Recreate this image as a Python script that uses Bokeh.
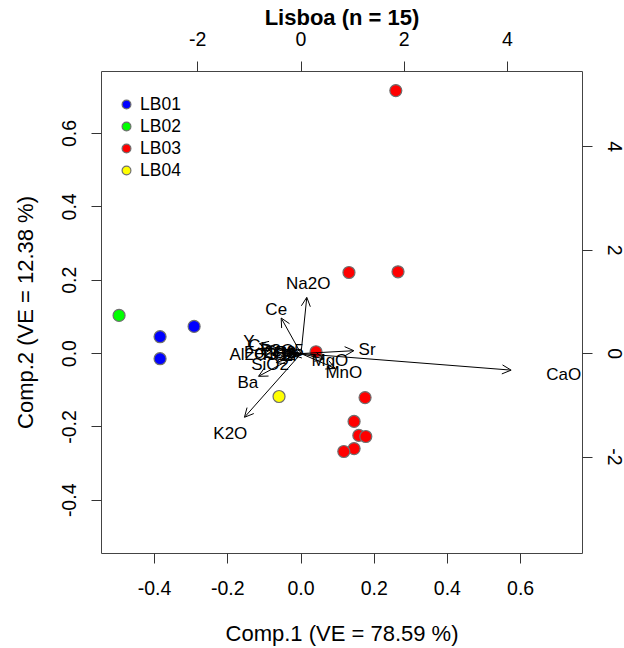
from bokeh.plotting import figure
from bokeh.models import (Range1d, LinearAxis, FixedTicker, Arrow, OpenHead,
                          ColumnDataSource, Legend, LegendItem)
from bokeh.core.properties import value
from bokeh.embed import file_html
from bokeh.resources import INLINE

# ---------------- data ----------------
title = "Lisboa (n = 15)"
xlab = "Comp.1 (VE = 78.59 %)"
ylab = "Comp.2 (VE = 12.38 %)"

groups = ["LB01", "LB02", "LB03", "LB04"]
group_colors = ["#0000FF", "#00FF00", "#FF0000", "#FFFF00"]

lb01_x = [-0.385, -0.385, -0.292]
lb01_y = [0.046, -0.014, 0.074]
lb02_x = [-0.497]
lb02_y = [0.104]
lb03_x = [0.259, 0.131, 0.265, 0.041, 0.175, 0.145, 0.158, 0.177, 0.145, 0.117]
lb03_y = [0.717, 0.221, 0.223, 0.005, -0.120, -0.185, -0.223, -0.226, -0.259, -0.267]
lb04_x = [-0.060]
lb04_y = [-0.117]

# variable loadings (label positions, loadings scale); arrows drawn to 0.8 x
var_names = ["CaO", "Na2O", "Ce", "Sr", "K2O", "Ba", "SiO2", "MgO", "MnO", "Y",
             "Al2O3", "Fe2O3", "TiO2", "P2O5", "Zr", "Rb", "Cr"]
var_x = [5.09, 0.14, -0.48, 1.28, -1.37, -1.03, -0.60, 0.56, 0.83, -1.01,
         -0.93, -0.60, -0.45, -0.37, -0.21, -0.29, -0.85]
var_y = [-0.40, 1.36, 0.86, 0.07, -1.54, -0.55, -0.22, -0.13, -0.36, 0.24,
         -0.01, 0.03, -0.01, 0.05, -0.03, 0.03, 0.15]

score_ticks = [-0.4, -0.2, 0.0, 0.2, 0.4, 0.6]
load_ticks = [-2, 0, 2, 4]
score_lim = (-0.545, 0.769)
load_ratio = 7.093

FONT = "Liberation Sans"

# ---------------- figure ----------------
p = figure(width=624, height=648, output_backend="svg", toolbar_location=None,
           x_range=Range1d(*score_lim), y_range=Range1d(*score_lim),
           x_axis_location=None, y_axis_location=None,
           min_border_left=101, min_border_right=41, min_border_top=71, min_border_bottom=94)
p.extra_x_ranges = {"load": Range1d(score_lim[0] * load_ratio, score_lim[1] * load_ratio)}
p.extra_y_ranges = {"load": Range1d(score_lim[0] * load_ratio, score_lim[1] * load_ratio)}
p.grid.visible = False
p.outline_line_color = "#444444"
p.outline_line_width = 1
p.background_fill_color = "white"
p.border_fill_color = "white"


def style_axis(ax, ticks, rotate=False):
    ax.ticker = FixedTicker(ticks=ticks)
    ax.axis_line_color = None
    ax.major_tick_in = 0
    ax.major_tick_out = 10
    ax.minor_tick_line_color = None
    ax.major_tick_line_color = "#333333"
    ax.major_label_text_font = FONT
    ax.major_label_text_font_size = "19.5px"
    ax.major_label_text_color = "black"
    ax.axis_label_text_font = FONT
    ax.axis_label_text_font_size = "22px"
    ax.axis_label_text_font_style = "normal"
    ax.axis_label_text_color = "black"
    if rotate:
        ax.major_label_orientation = "vertical"


def fmt(v):
    return f"{v:.1f}" if isinstance(v, float) else str(v)


bottom = LinearAxis(axis_label=xlab)
style_axis(bottom, score_ticks)
bottom.major_label_standoff = 17
bottom.axis_label_standoff = 23
bottom.major_label_overrides = {v: fmt(v) for v in score_ticks}
p.add_layout(bottom, "below")

left = LinearAxis(axis_label=ylab)
style_axis(left, score_ticks, rotate=True)
left.major_label_standoff = 15
left.axis_label_standoff = 22
left.major_label_overrides = {v: fmt(v) for v in score_ticks}
p.add_layout(left, "left")

top = LinearAxis(x_range_name="load", axis_label=title)
style_axis(top, load_ticks)
top.major_label_standoff = 16
top.axis_label_standoff = -1
top.axis_label_text_font_size = "22px"
top.axis_label_text_font_style = "bold"
top.major_label_overrides = {v: fmt(v) for v in load_ticks}
p.add_layout(top, "above")

right = LinearAxis(y_range_name="load")
style_axis(right, load_ticks, rotate=True)
right.major_label_standoff = 15
right.major_label_overrides = {v: fmt(v) for v in load_ticks}
p.add_layout(right, "right")

# ---------------- points ----------------
renderers = []
for xs, ys, col in [(lb01_x, lb01_y, group_colors[0]), (lb02_x, lb02_y, group_colors[1]),
                    (lb03_x, lb03_y, group_colors[2]), (lb04_x, lb04_y, group_colors[3])]:
    r = p.scatter(xs, ys, size=12, fill_color=col, line_color="#6f6f6f", line_width=1.2)
    renderers.append(r)

# ---------------- arrows ----------------
arrow_src = ColumnDataSource(dict(
    x0=[0.0] * len(var_x), y0=[0.0] * len(var_y),
    x1=[0.8 * v for v in var_x], y1=[0.8 * v for v in var_y]))
p.add_layout(Arrow(end=OpenHead(size=9, line_width=1, line_color="black"),
                   x_start="x0", y_start="y0", x_end="x1", y_end="y1",
                   source=arrow_src, line_color="black", line_width=1,
                   x_range_name="load", y_range_name="load"))

p.text(x=var_x, y=var_y, text=var_names, x_range_name="load", y_range_name="load",
       text_align="center", text_baseline="middle", text_color="black",
       text_font=value(FONT), text_font_size="17px")

# ---------------- legend ----------------
legend = Legend(items=[LegendItem(label=g, renderers=[r]) for g, r in zip(groups, renderers)],
                location=(14, 372), orientation="vertical",
                glyph_width=22, glyph_height=22, label_height=22, spacing=0,
                label_standoff=3, padding=5, margin=0,
                label_text_font=FONT, label_text_font_size="17.5px",
                label_text_color="black",
                border_line_color=None, background_fill_alpha=0)
p.add_layout(legend, "center")

open("out.html", "w").write(file_html(p, INLINE))
